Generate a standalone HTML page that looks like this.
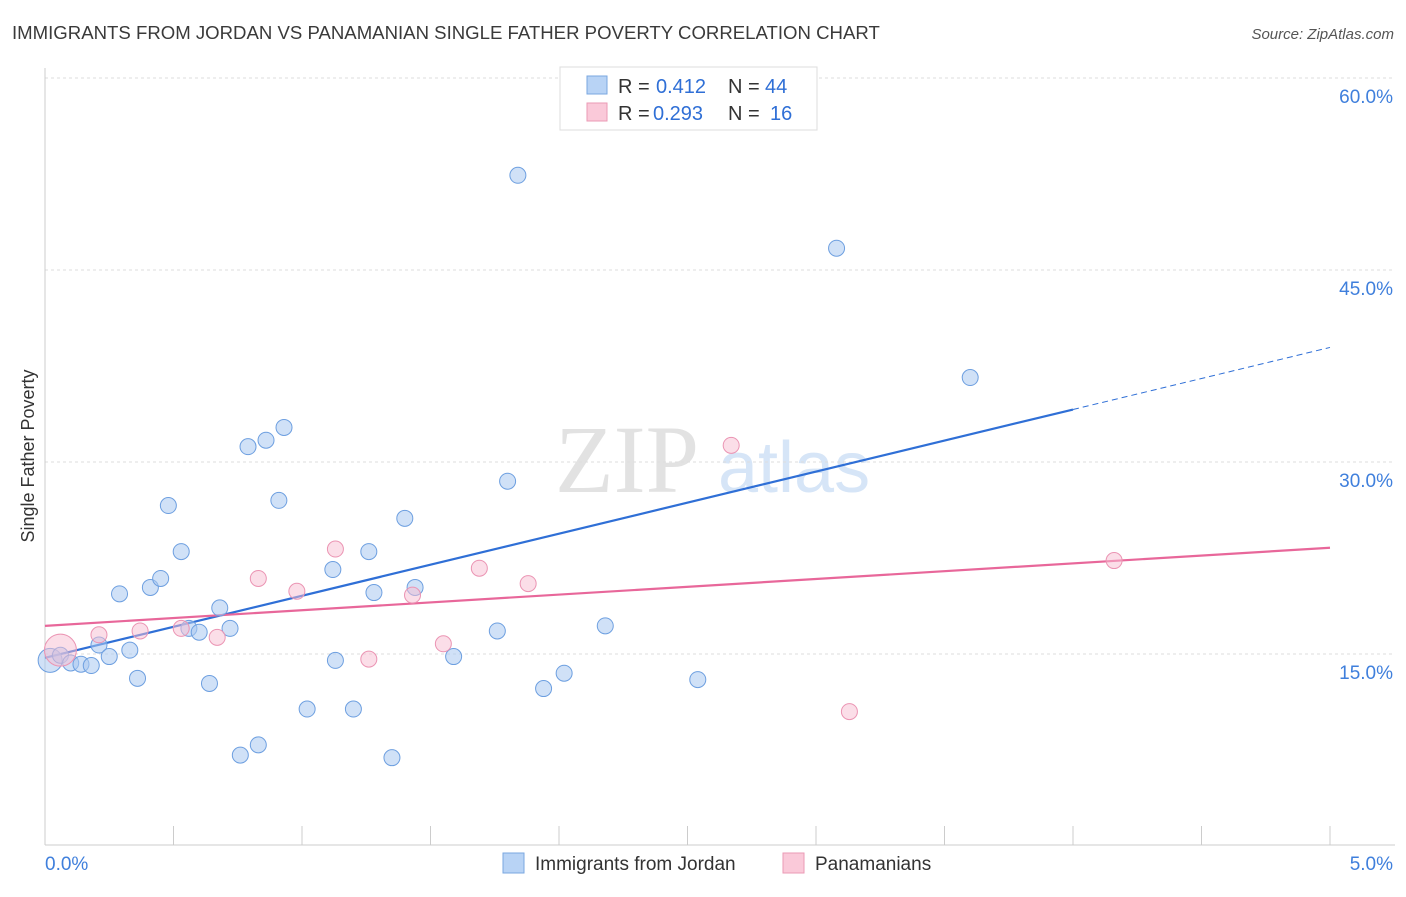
<!DOCTYPE html>
<html><head><meta charset="utf-8"><style>
body{margin:0;background:#fff;font-family:"Liberation Sans",sans-serif;}
</style></head><body>
<svg width="1406" height="892" xmlns="http://www.w3.org/2000/svg" font-family="Liberation Sans, sans-serif">
<text x="12" y="39" font-size="18.6" fill="#3a3a3a">IMMIGRANTS FROM JORDAN VS PANAMANIAN SINGLE FATHER POVERTY CORRELATION CHART</text>
<text x="1394" y="39" font-size="15" fill="#555" font-style="italic" text-anchor="end">Source: ZipAtlas.com</text>
<text x="555" y="492" font-size="96" fill="#e2e2e2" font-family="Liberation Serif, serif">ZIP</text>
<text x="718" y="492" font-size="72" fill="#d6e5f7">atlas</text>
<g id="grid"></g>
<g id="axes"></g>
<text transform="translate(34,456) rotate(-90)" font-size="18" fill="#333" text-anchor="middle">Single Father Poverty</text>
<g id="lines"></g>
<g id="points"></g>
<g>
<rect x="560" y="67" width="257" height="63" fill="#fff" stroke="#ddd"/>
<rect x="587" y="76" width="20" height="18" fill="#b8d3f5" stroke="#7aa7e0"/>
<text x="618" y="93" font-size="20" fill="#333">R =</text>
<text x="656" y="93" font-size="20" fill="#2f6fd6">0.412</text>
<text x="728" y="93" font-size="20" fill="#333">N =</text>
<text x="765" y="93" font-size="20" fill="#2f6fd6">44</text>
<rect x="587" y="103" width="20" height="18" fill="#fac9d9" stroke="#eb9ab5"/>
<text x="618" y="120" font-size="20" fill="#333">R =</text>
<text x="653" y="120" font-size="20" fill="#2f6fd6">0.293</text>
<text x="728" y="120" font-size="20" fill="#333">N =</text>
<text x="770" y="120" font-size="20" fill="#2f6fd6">16</text>
</g>
<g>
<rect x="503" y="853" width="21" height="20" fill="#b8d3f5" stroke="#7aa7e0"/>
<text x="535" y="870" font-size="19" fill="#333">Immigrants from Jordan</text>
<rect x="783" y="853" width="21" height="20" fill="#fac9d9" stroke="#eb9ab5"/>
<text x="815" y="870" font-size="19" fill="#333">Panamanians</text>
</g>
</svg>
<script>
const blueX=[0.02,0.06,0.10,0.14,0.18,0.21,0.25,0.29,0.33,0.36,0.41,0.45,0.48,0.53,0.56,0.60,0.64,0.68,0.72,0.76,0.79,0.83,0.86,0.91,0.93,1.02,1.12,1.13,1.20,1.26,1.28,1.35,1.40,1.44,1.59,1.76,1.80,1.84,1.94,2.02,2.18,2.54,3.08,3.60];
const blueY=[14.5,14.9,14.3,14.2,14.1,15.7,14.8,19.7,15.3,13.1,20.2,20.9,26.6,23.0,17.0,16.7,12.7,18.6,17.0,7.1,31.2,7.9,31.7,27.0,32.7,10.7,21.6,14.5,10.7,23.0,19.8,6.9,25.6,20.2,14.8,16.8,28.5,52.4,12.3,13.5,17.2,13.0,46.7,36.6];
const pinkX=[0.06,0.21,0.37,0.53,0.67,0.83,0.98,1.13,1.26,1.43,1.55,1.69,1.88,2.67,3.13,4.16];
const pinkY=[15.3,16.5,16.8,17.0,16.3,20.9,19.9,23.2,14.6,19.6,15.8,21.7,20.5,31.3,10.5,22.3];
const yTicks=[15,30,45,60];
const yTickLabels=["15.0%","30.0%","45.0%","60.0%"];
const blueTrend=[14.7,4.85];
const pinkTrend=[17.2,1.22];
const NS="http://www.w3.org/2000/svg";
const X=v=>45+v*257, Y=v=>846-v*12.8;
function mk(t,a,p){const e=document.createElementNS(NS,t);for(const k in a)e.setAttribute(k,a[k]);p.appendChild(e);return e;}
const grid=document.getElementById('grid'),axes=document.getElementById('axes');
yTicks.forEach((t,i)=>{
 const l=mk('line',{x1:45,x2:1395,y1:Y(t),y2:Y(t),stroke:'#ddd','stroke-dasharray':'3,3'},grid);
 
 
 const tx=mk('text',{x:1393,y:Y(t)+25,'font-size':19,fill:'#3f7fdc','text-anchor':'end'},grid);
 tx.textContent=yTickLabels[i];
 
 
});
mk('line',{x1:45,x2:45,y1:68,y2:845,stroke:'#ccc'},axes);
mk('line',{x1:45,x2:1395,y1:845,y2:845,stroke:'#ccc'},axes);
for(let i=0;i<=10;i++){const t=mk('line',{x1:X(i*0.5),x2:X(i*0.5),y1:826,y2:845,stroke:'#ccc'},axes);
 
 }
const x0=mk('text',{x:45,y:870,'font-size':19,fill:'#3f7fdc'},axes);x0.textContent='0.0%';
const x1=mk('text',{x:1393,y:870,'font-size':19,fill:'#3f7fdc','text-anchor':'end'},axes);x1.textContent='5.0%';
const lines=document.getElementById('lines');
let b=mk('line',{x1:X(0),y1:Y(blueTrend[0]),x2:X(4),y2:Y(blueTrend[0]+4*blueTrend[1]),stroke:'#2f6fd6','stroke-width':2.2},lines);


b=mk('line',{x1:X(4),y1:Y(blueTrend[0]+4*blueTrend[1]),x2:X(5),y2:Y(blueTrend[0]+5*blueTrend[1]),stroke:'#2f6fd6','stroke-width':1,'stroke-dasharray':'6,4'},lines);


b=mk('line',{x1:X(0),y1:Y(pinkTrend[0]),x2:X(5),y2:Y(pinkTrend[0]+5*pinkTrend[1]),stroke:'#e8679a','stroke-width':2.2},lines);


const pts=document.getElementById('points');
blueX.forEach((v,i)=>{const c=mk('circle',{cx:X(v),cy:Y(blueY[i]),r:i==0?12:8,fill:'rgba(170,200,240,0.55)',stroke:'#6d9fe0','stroke-width':1},pts);
 
 });
pinkX.forEach((v,i)=>{const c=mk('circle',{cx:X(v),cy:Y(pinkY[i]),r:i==0?16:8,fill:'rgba(248,190,210,0.5)',stroke:'#eb94b3','stroke-width':1},pts);
 
 });
</script>
</body></html>
